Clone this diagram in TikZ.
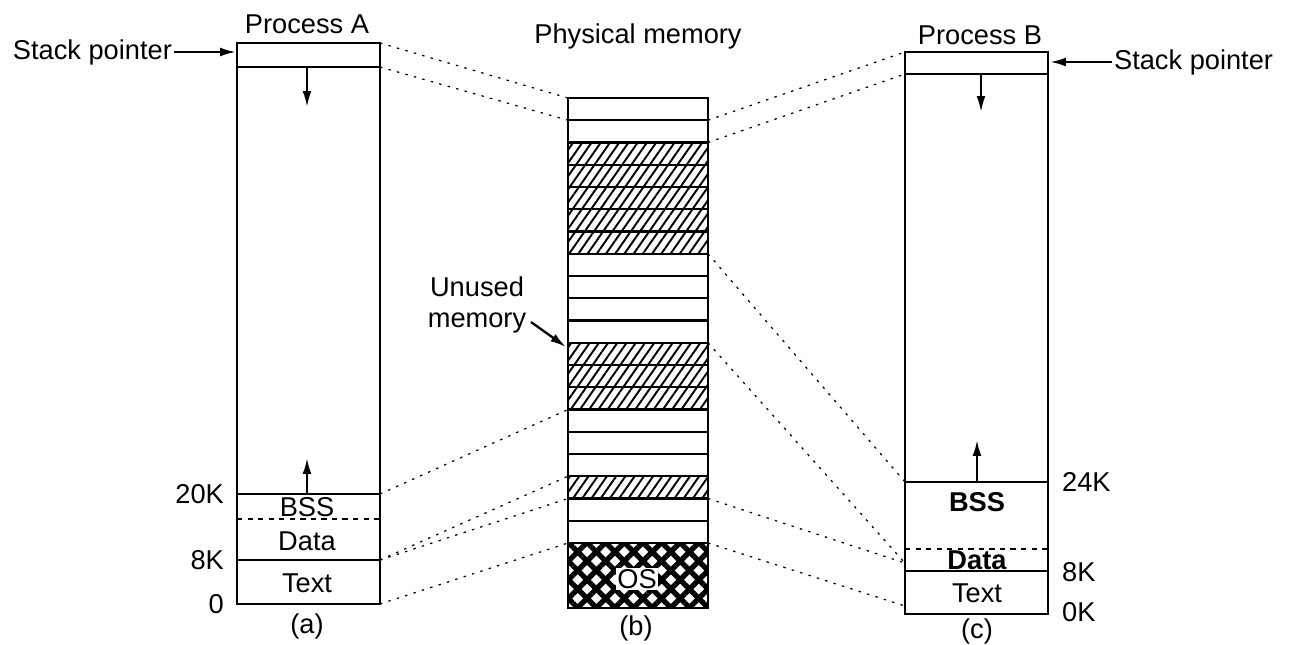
\documentclass[tikz,border=0pt]{standalone}
\usepackage{fontspec}
\setmainfont{Liberation Sans}
\usepackage{tikz}
\usetikzlibrary{patterns.meta,arrows.meta}

\tikzset{
  seg/.style={line width=1.3pt},
  mapline/.style={line width=0.7pt, dash pattern=on 1.4pt off 3.6pt},
  hatched/.style={pattern={Lines[angle=55,distance=4.3pt,line width=1.1pt]}},
  lbl/.style={font=\fontsize{15.5}{17.5}\selectfont, inner sep=1pt},
}

\begin{document}
\begin{tikzpicture}[x=0.02cm, y=-0.02cm, >={Latex[length=9pt,width=5pt]}]
    \useasboundingbox (0,0) rectangle (1303,645);

    % process A
    \draw[seg] (237,43) rectangle (380,604);
    \draw[seg] (237,67) -- (380,67);
    \draw[seg] (237,494) -- (380,494);
    \draw[seg, dashed] (237,519) -- (380,519);
    \draw[seg] (237,560) -- (380,560);
    \coordinate (A-top) at (380,43);
    \coordinate (A-sp) at (380,67);
    \coordinate (A-20K) at (380,494);
    \coordinate (A-8K) at (380,560);
    \coordinate (A-0) at (380,604);
    \coordinate (A-in) at (236,52);
    \coordinate (A-stk) at (307,67);
    \coordinate (A-heap) at (307,494);
    \draw[seg, ->] (A-stk) -- ++(0,40);
    \draw[seg, ->] (A-heap) -- ++(0,-36);
    \node[lbl] (procA) at (307,24) {Process A};
    \node[lbl, anchor=east] (spA) at (174,52) {Stack pointer};
    \draw[seg, ->] (spA.east) -- (A-in);
    \node[lbl] (bssA) at (307,507) {BSS};
    \node[lbl] (dataA) at (307,541) {Data};
    \node[lbl] (textA) at (307,583) {Text};
    \node[lbl, anchor=east] (kA20) at (226,494) {20K};
    \node[lbl, anchor=east] (kA8) at (226,560) {8K};
    \node[lbl, anchor=east] (kA0) at (226,604) {0};
    \node[lbl] (capA) at (307,626) {(a)};

    % physical memory
    \foreach \k [count=\i from 0] in {0,0,1,1,1,1,1,0,0,0,0,1,1,1,0,0,0,1,0,0} {
        \pgfmathsetmacro\ytop{98+22.25*\i}
        \coordinate (P-L\i) at (568,\ytop);
        \coordinate (P-R\i) at (708,\ytop);
        \ifnum\k=1 \fill[hatched] (568,\ytop) rectangle (708,\ytop+22.25); \fi
        \draw[seg] (568,\ytop) rectangle (708,\ytop+22.25);
    }
    \coordinate (P-L20) at (568,543);
    \coordinate (P-R20) at (708,543);
    \fill[pattern={Lines[angle=45,distance=7.5pt,line width=3pt]}] (568,543) rectangle (708,608);
    \fill[pattern={Lines[angle=-45,distance=7.5pt,line width=3pt]}] (568,543) rectangle (708,608);
    \draw[seg] (568,543) rectangle (708,608);
    \node[lbl, fill=white, inner sep=0.5pt] (os) at (637,579) {OS};
    \node[lbl] (phys) at (638,36) {Physical memory};
    \node[lbl] (capB) at (636,628) {(b)};
    \node[lbl, align=center] (unused) at (477,305) {Unused\\memory};
    \coordinate (U-tail) at (531,322);
    \coordinate (U-tip) at (566,347);
    \draw[seg, ->] (U-tail) -- (U-tip);

    % process B
    \draw[seg] (905,52) rectangle (1048,614);
    \draw[seg] (905,74) -- (1048,74);
    \draw[seg] (905,482) -- (1048,482);
    \draw[seg, dashed] (905,549) -- (1048,549);
    \draw[seg] (905,571) -- (1048,571);
    \coordinate (B-top) at (905,52);
    \coordinate (B-sp) at (905,74);
    \coordinate (B-24K) at (905,482);
    \coordinate (B-data) at (905,563);
    \coordinate (B-low) at (905,606);
    \coordinate (B-in) at (1050,62);
    \coordinate (B-stk) at (981,74);
    \coordinate (B-heap) at (977,482);
    \draw[seg, ->] (B-stk) -- ++(0,38);
    \draw[seg, ->] (B-heap) -- ++(0,-42);
    \node[lbl] (procB) at (980,35) {Process B};
    \node[lbl, anchor=west] (spB) at (1112,62) {Stack pointer};
    \draw[seg, ->] (spB.west) -- (B-in);
    \node[lbl] (bssB) at (977,502) {\bfseries BSS};
    \node[lbl] (dataB) at (977,560) {\bfseries Data};
    \node[lbl] (textB) at (977,593) {Text};
    \node[lbl, anchor=west] (kB24) at (1060,482) {24K};
    \node[lbl, anchor=west] (kB8) at (1060,572) {8K};
    \node[lbl, anchor=west] (kB0) at (1060,612) {0K};
    \node[lbl] (capC) at (977,631) {(c)};

    % mappings
    \draw[mapline] (A-top) -- (P-L0);
    \draw[mapline] (A-sp) -- (P-L1);
    \draw[mapline] (A-20K) -- (P-L14);
    \draw[mapline] (A-8K) -- (P-L17);
    \draw[mapline] (A-8K) -- (P-L18);
    \draw[mapline] (A-0) -- (P-L20);
    \draw[mapline] (P-R1) -- (B-top);
    \draw[mapline] (P-R2) -- (B-sp);
    \draw[mapline] (P-R7) -- (B-24K);
    \draw[mapline] (P-R11) -- (B-data);
    \draw[mapline] (P-R18) -- (B-data);
    \draw[mapline] (P-R20) -- (B-low);
\end{tikzpicture}
\end{document}
